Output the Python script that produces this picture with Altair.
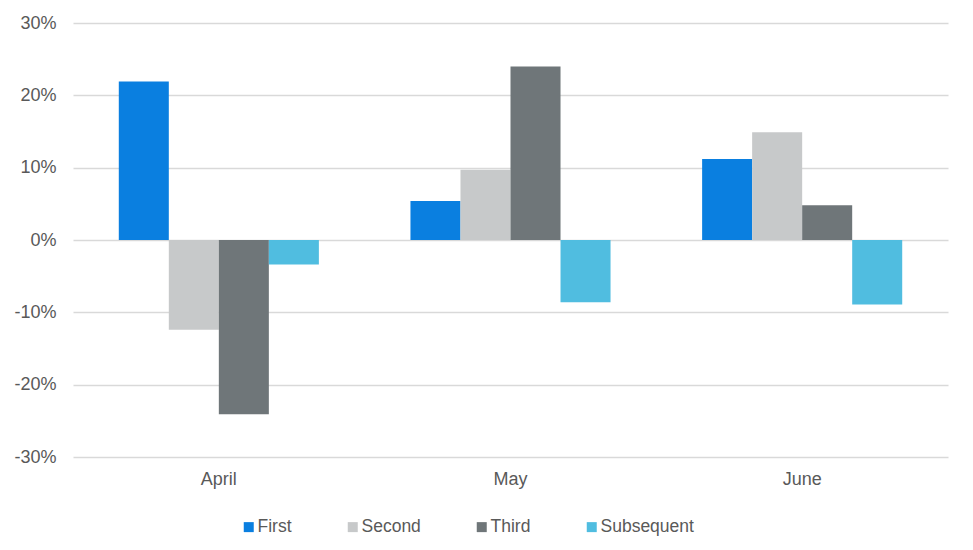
import altair as alt
import pandas as pd

months = ["April", "May", "June"]
series = ["First", "Second", "Third", "Subsequent"]
values = {
    "First": [0.219, 0.054, 0.112],
    "Second": [-0.124, 0.097, 0.149],
    "Third": [-0.241, 0.240, 0.048],
    "Subsequent": [-0.034, -0.086, -0.089],
}
colors = ["#0A7FE0", "#C7C9CA", "#6F7679", "#50BDE0"]

rows = []
for s in series:
    for m, v in zip(months, values[s]):
        rows.append({"Month": m, "Series": s, "Value": v})
df = pd.DataFrame(rows)

font = "Liberation Sans"
text_color = "#595959"

chart = alt.Chart(df).mark_bar().encode(
    x=alt.X("Month:N", sort=months,
            scale=alt.Scale(paddingInner=0.314, paddingOuter=0.157),
            axis=alt.Axis(title=None, labelAngle=0, domain=False, ticks=False,
                          labelFontSize=18, labelColor=text_color, labelFont=font,
                          labelPadding=13, grid=False)),
    xOffset=alt.XOffset("Series:N", sort=series, scale=alt.Scale(paddingInner=0, paddingOuter=0)),
    y=alt.Y("Value:Q",
            scale=alt.Scale(domain=[-0.3, 0.3], nice=False),
            axis=alt.Axis(title=None, values=[-0.3, -0.2, -0.1, 0, 0.1, 0.2, 0.3],
                          labelExpr="(datum.value < 0 ? '-' : '') + format(abs(datum.value) * 100, '.0f') + '%'",
                          domain=False, ticks=False, labelFontSize=18, labelColor=text_color,
                          labelFont=font, labelPadding=17, gridColor="#D9D9D9", gridWidth=1.5)),
    color=alt.Color("Series:N", sort=series,
                    scale=alt.Scale(domain=series, range=colors),
                    legend=alt.Legend(title=None, orient="none", direction="horizontal",
                                      legendX=167, legendY=495,
                                      symbolType="square", symbolSize=100, symbolStrokeWidth=0,
                                      labelFontSize=17.5, labelColor=text_color, labelFont=font,
                                      labelOffset=0, columnPadding=52)),
).properties(
    width=875, height=434, background="white",
    padding={"left": 5, "top": 6, "right": 5, "bottom": 5}
).configure_view(strokeWidth=0, stroke=None)

chart.save("out.html", embed_options={"renderer": "svg", "actions": False})
